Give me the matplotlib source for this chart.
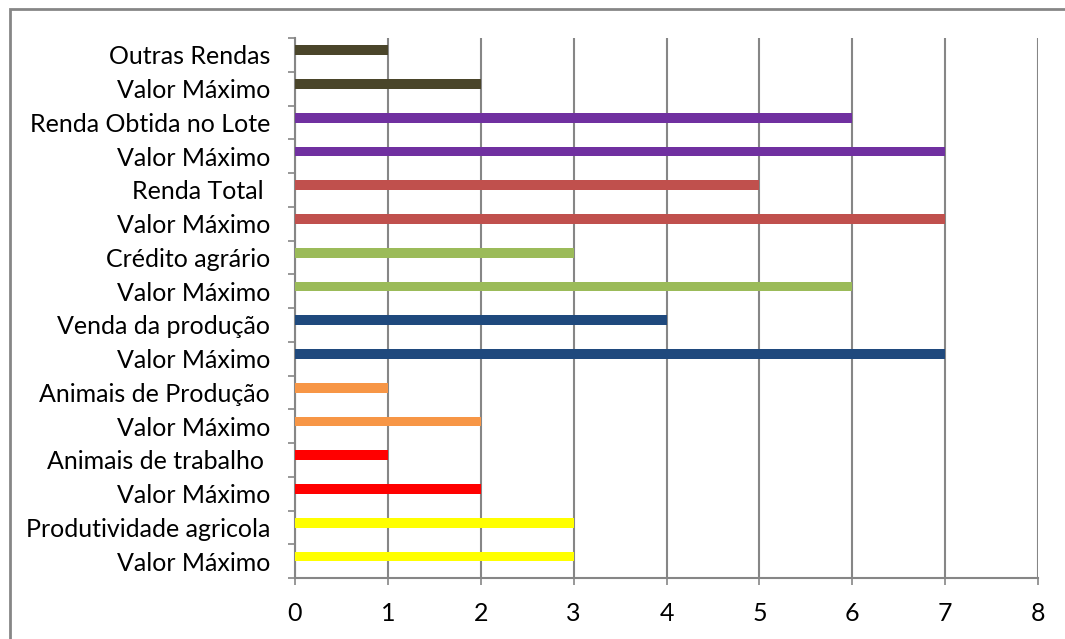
import numpy as np
import matplotlib.pyplot as plt
from matplotlib.patches import Rectangle

# categorias de cima para baixo
categorias = ['Outras Rendas', 'Valor Máximo', 'Renda Obtida no Lote', 'Valor Máximo',
              'Renda Total ', 'Valor Máximo', 'Crédito agrário', 'Valor Máximo',
              'Venda da produção', 'Valor Máximo', 'Animais de Produção', 'Valor Máximo',
              'Animais de trabalho ', 'Valor Máximo', 'Produtividade agricola', 'Valor Máximo']
valores = [1, 2, 6, 7, 5, 7, 3, 6, 4, 7, 1, 2, 1, 2, 3, 3]
cores = ['#4A452A', '#4A452A', '#7030A0', '#7030A0', '#C0504D', '#C0504D',
         '#9BBB59', '#9BBB59', '#1F497D', '#1F497D', '#F79646', '#F79646',
         '#FF0000', '#FF0000', '#FFFF00', '#FFFF00']

plt.rcParams['font.family'] = ['Lato', 'DejaVu Sans']

fig = plt.figure(figsize=(10.65, 6.39), dpi=100)
ax = fig.add_axes([295/1065, 1-578/639, (1038-295)/1065, (578-38)/639])

pos = np.arange(len(categorias))
ax.barh(pos - 0.14, valores, height=0.29, color=cores, zorder=3)

ax.set_ylim(len(categorias) - 0.5, -0.5)
ax.set_xlim(0, 8)
ax.set_xticks(range(9))
ax.set_yticks(pos)
ax.set_yticklabels(categorias, fontsize=18)
ax.set_yticks(np.arange(len(categorias) + 1) - 0.5, minor=True)
ax.tick_params(axis='y', which='major', length=0, pad=18)
ax.tick_params(axis='y', which='minor', length=5, color='#868686', width=1.2, direction='out')
ax.tick_params(axis='x', length=5, color='#868686', width=1.2, labelsize=18, pad=12)

ax.grid(axis='x', color='#868686', linewidth=1.5, zorder=0)
for s in ['top', 'right']:
    ax.spines[s].set_visible(False)
for s in ['left', 'bottom']:
    ax.spines[s].set_color('#868686')
    ax.spines[s].set_linewidth(1.5)

# borda da área do gráfico
fig.patches.append(Rectangle((10/1065, -0.1), 1.2, 1.1 - 9/639, transform=fig.transFigure,
                             fill=False, edgecolor='#868686', linewidth=2))

fig.savefig('out.png', dpi=100)
